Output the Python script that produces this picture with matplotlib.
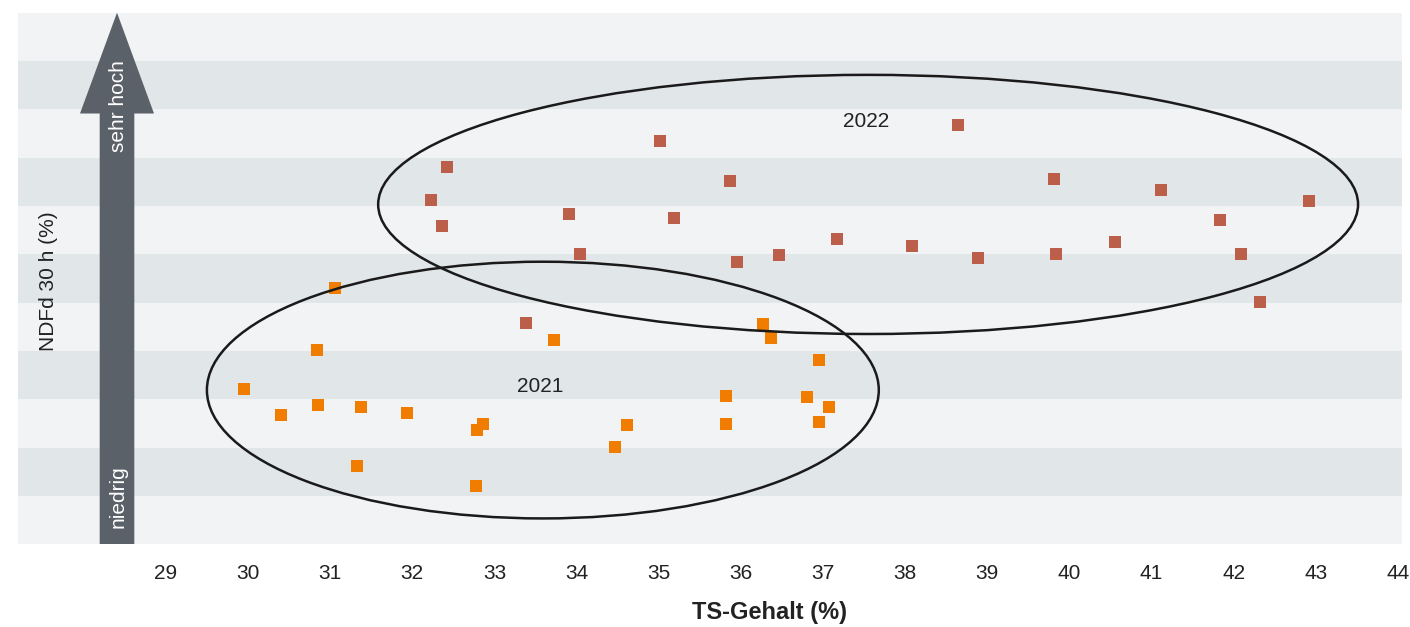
import matplotlib.pyplot as plt
from matplotlib.patches import Ellipse, Polygon

plt.rcParams['font.family'] = ['Liberation Sans', 'DejaVu Sans']

# TS-Gehalt (%) und NDFd-Lage (relativ, 1 Einheit = 1 Band)
ts_2021 = [29.95, 30.40, 30.84, 30.85, 31.37, 31.33, 31.93, 31.06, 32.79, 32.86, 32.77,
           33.72, 34.62, 34.47, 35.82, 35.82, 36.27, 36.37, 36.95, 36.81, 37.07, 36.95]
ndfd_2021 = [3.21, 2.67, 4.02, 2.88, 2.84, 1.62, 2.72, 5.31, 2.36, 2.49, 1.20,
             4.23, 2.47, 2.02, 3.07, 2.49, 4.55, 4.27, 3.81, 3.05, 2.85, 2.54]

ts_2022 = [32.42, 32.23, 32.36, 35.02, 35.87, 33.91, 35.19, 34.04, 35.95, 36.47, 37.17, 33.39,
           38.64, 39.81, 41.11, 42.92, 41.83, 38.08, 38.89, 39.84, 40.56, 42.09, 42.32]
ndfd_2022 = [7.81, 7.13, 6.58, 8.35, 7.52, 6.84, 6.75, 6.01, 5.84, 5.99, 6.32, 4.58,
             8.68, 7.56, 7.33, 7.11, 6.71, 6.18, 5.93, 6.01, 6.26, 6.01, 5.02]

x_ticks = list(range(29, 45))

# Ellipsen um die Jahrgänge (Mitte x, Mitte y, Breite, Höhe)
ellipse_2021 = (33.59, 3.19, 8.18, 5.31)
ellipse_2022 = (37.55, 7.03, 11.93, 5.36)

W, H = 1410, 627
fig = plt.figure(figsize=(W / 100, H / 100), dpi=100)
ax = fig.add_axes([18 / W, 1 - 544.3 / H, (1402 - 18) / W, (544.3 - 12.5) / H])


def px(x, y):
    # Pixel (oben links) -> Figurkoordinaten
    return (x / W, 1 - y / H)


# Bänder im Hintergrund
for i in range(11):
    color = '#f1f3f4' if i % 2 == 0 else '#e1e6e8'
    ax.axhspan(i, i + 1, color=color, lw=0, zorder=0)

# Pfeil links
pts = [px(99.7, 544.3), px(134.3, 544.3), px(134.3, 113.5), px(154, 113.5),
       px(117, 12.7), px(80, 113.5), px(99.7, 113.5)]
ax.add_patch(Polygon(pts, closed=True, transform=fig.transFigure, facecolor='#5b6168',
                     edgecolor='none', zorder=1))
fig.text(*px(118, 106), 'sehr hoch', rotation=90, color='white', fontsize=15,
         ha='center', va='center', zorder=5)
fig.text(*px(118, 496.5), 'niedrig', rotation=90, color='white', fontsize=15,
         ha='center', va='center', zorder=5)

# Punkte
ax.scatter(ts_2021, ndfd_2021, marker='s', s=78, color='#f07d00', lw=0, zorder=3)
ax.scatter(ts_2022, ndfd_2022, marker='s', s=78, color='#bb5f4a', lw=0, zorder=3)

# Ellipsen
for cx, cy, w, h in [ellipse_2021, ellipse_2022]:
    ax.add_patch(Ellipse((cx, cy), w, h, fill=False, lw=1.8, ec='#1a1a1a', zorder=4))

ax.text(33.56, 3.27, '2021', fontsize=15, color='#222222', ha='center', va='center', zorder=5)
ax.text(37.53, 8.75, '2022', fontsize=15, color='#222222', ha='center', va='center', zorder=5)

ax.set_xlim(27.2, 44.05)
ax.set_ylim(0, 11)
ax.set_xticks(x_ticks)
ax.set_xticklabels([str(t) for t in x_ticks], fontsize=15, color='#222222')
ax.tick_params(axis='x', length=0, pad=14)
ax.set_yticks([])
for s in ax.spines.values():
    s.set_visible(False)

fig.text(*px(770, 613), 'TS-Gehalt (%)', fontsize=17, fontweight='bold', color='#222222',
         ha='center', va='center')
fig.text(*px(48, 281), 'NDFd 30 h (%)', fontsize=15, rotation=90, color='#222222',
         ha='center', va='center')

fig.savefig('out.png', dpi=100)
